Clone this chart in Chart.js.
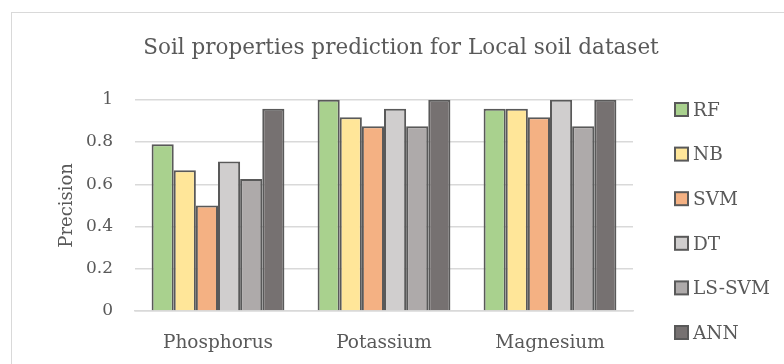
<!DOCTYPE html>
<html>
<head>
<meta charset="utf-8">
<script src="https://cdn.jsdelivr.net/npm/chart.js@4/dist/chart.umd.min.js"></script>
<style>
  html, body { margin: 0; padding: 0; background: #ffffff; }
  #wrap { position: relative; width: 784px; height: 364px; }
</style>
</head>
<body>
<div id="wrap"><canvas id="chart" width="784" height="364"></canvas></div>
<script>
const categories = ['Phosphorus', 'Potassium', 'Magnesium'];
const seriesNames = ['RF', 'NB', 'SVM', 'DT', 'LS-SVM', 'ANN'];
const rfValues    = [0.79, 1.0, 0.958];
const nbValues    = [0.667, 0.917, 0.958];
const svmValues   = [0.5, 0.875, 0.917];
const dtValues    = [0.708, 0.958, 1.0];
const lssvmValues = [0.625, 0.875, 0.875];
const annValues   = [0.958, 1.0, 1.0];
const yTicks = [0, 0.2, 0.4, 0.6, 0.8, 1];

const seriesValues = [rfValues, nbValues, svmValues, dtValues, lssvmValues, annValues];
const fills = ['#a9d18e', '#ffe699', '#f4b183', '#d0cece', '#aeaaaa', '#767171'];
const edge = '#595959';
const textColor = '#595959';
const serif = "'DejaVu Serif', 'Liberation Serif', serif";

// Outer frame around the chart
const framePlugin = {
  id: 'frame',
  beforeDraw(chart) {
    const ctx = chart.ctx;
    ctx.save();
    ctx.strokeStyle = '#d9d9d9';
    ctx.lineWidth = 1;
    ctx.strokeRect(11.5, 12.5, 900, 500);
    ctx.restore();
  }
};

// Legend column on the right, one swatch per series
const sideLegend = {
  id: 'sideLegend',
  afterDraw(chart) {
    const ctx = chart.ctx;
    ctx.save();
    ctx.font = '18.5px ' + serif;
    ctx.textBaseline = 'middle';
    ctx.textAlign = 'left';
    chart.data.datasets.forEach((ds, i) => {
      const cy = 110 + i * 44.6;
      ctx.fillStyle = ds.backgroundColor;
      ctx.fillRect(675, cy - 7, 13, 13);
      ctx.strokeStyle = edge;
      ctx.lineWidth = 2;
      ctx.strokeRect(675, cy - 7, 13, 13);
      ctx.fillStyle = textColor;
      ctx.fillText(ds.label, 693, cy + 1);
    });
    ctx.restore();
  }
};

new Chart(document.getElementById('chart'), {
  type: 'bar',
  data: {
    labels: categories,
    datasets: seriesNames.map((name, i) => ({
      label: name,
      data: seriesValues[i],
      backgroundColor: fills[i],
      borderColor: edge,
      borderWidth: 2,
      categoryPercentage: 0.8,
      barPercentage: 1.0
    }))
  },
  options: {
    responsive: false,
    animation: false,
    layout: { padding: { left: 18, right: 0, top: 0, bottom: 0 } },
    plugins: {
      legend: { display: false },
      tooltip: { enabled: false },
      title: {
        display: true,
        text: 'Soil properties prediction for Local soil dataset',
        color: textColor,
        font: { family: serif, size: 21.5, weight: 'normal' },
        padding: { top: 36, bottom: 38 }
      }
    },
    scales: {
      x: {
        grid: { display: false, drawTicks: false },
        border: { display: true, color: '#d9d9d9', width: 1.5 },
        afterFit(scale) { scale.height = 53; },
        ticks: { color: textColor, font: { family: serif, size: 18.5 }, padding: 21 }
      },
      y: {
        min: 0,
        max: 1,
        afterBuildTicks(scale) { scale.ticks = yTicks.map(v => ({ value: v })); },
        afterFit(scale) { scale.width = 117; },
        grid: { color: '#d9d9d9', lineWidth: 1.5, drawTicks: false },
        border: { display: false },
        ticks: {
          color: textColor,
          font: { family: serif, size: 17 },
          padding: 22,
          callback: (v) => String(v)
        },
        title: {
          display: true,
          text: 'Precision',
          color: textColor,
          font: { family: serif, size: 18 },
          padding: { top: 39, bottom: 0 }
        }
      },
      side: {
        type: 'linear',
        position: 'right',
        display: true,
        afterFit(scale) { scale.width = 151; },
        grid: { display: false, drawTicks: false },
        border: { display: false },
        ticks: { display: false }
      }
    }
  },
  plugins: [framePlugin, sideLegend]
});
</script>
</body>
</html>
